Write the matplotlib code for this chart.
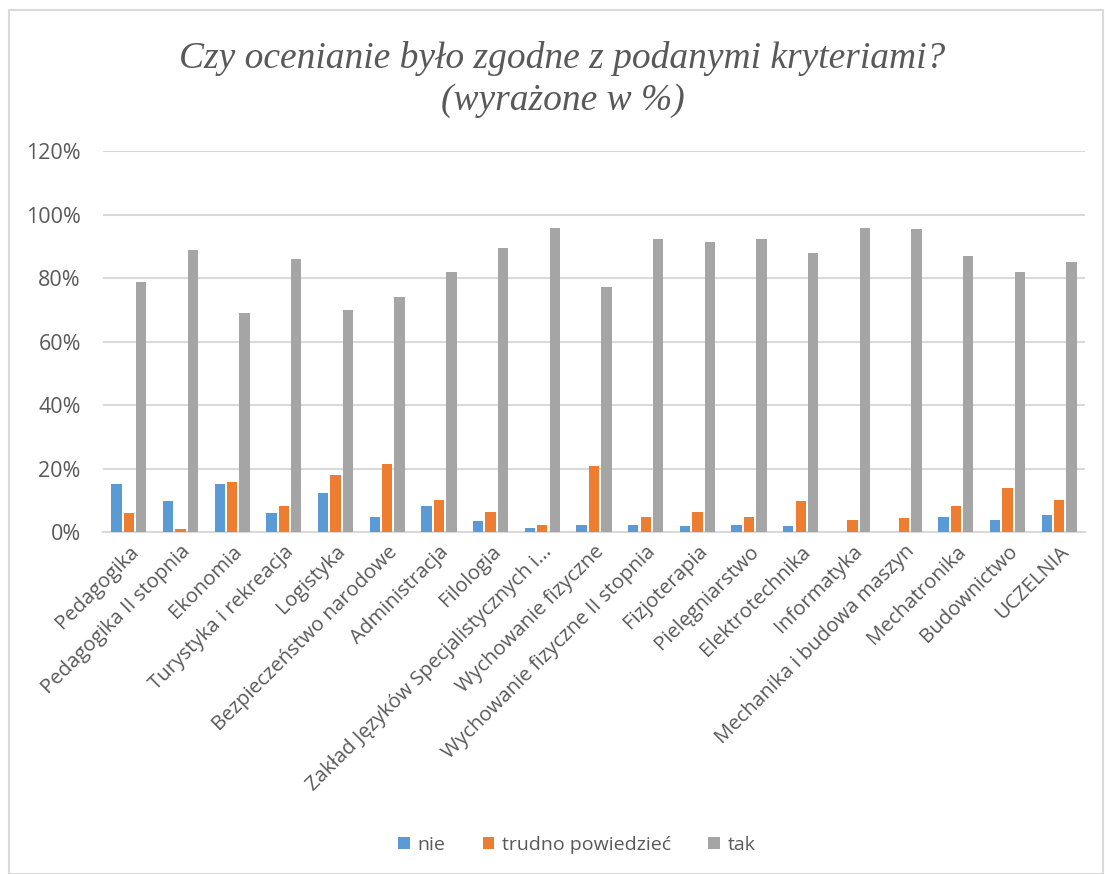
import numpy as np
import matplotlib
matplotlib.use('Agg')
import matplotlib.pyplot as plt
from matplotlib.patches import Rectangle
from matplotlib.ticker import PercentFormatter

#categories (kierunki) and answers in %
kierunki = ['Pedagogika', 'Pedagogika II stopnia', 'Ekonomia', 'Turystyka i rekreacja',
            'Logistyka', 'Bezpieczeństwo narodowe', 'Administracja', 'Filologia',
            'Zakład Języków Specjalistycznych i...', 'Wychowanie fizyczne',
            'Wychowanie fizyczne II stopnia', 'Fizjoterapia', 'Pielęgniarstwo',
            'Elektrotechnika', 'Informatyka', 'Mechanika i budowa maszyn',
            'Mechatronika', 'Budownictwo', 'UCZELNIA']
nie = [15.0, 9.7, 15.0, 6.0, 12.2, 4.7, 8.1, 3.5, 1.4, 2.3,
       2.3, 1.8, 2.3, 1.8, 0.0, 0.0, 4.7, 3.9, 5.2]
trudno = [6.0, 1.0, 15.9, 8.1, 18.0, 21.3, 10.1, 6.4, 2.3, 20.9,
          4.6, 6.4, 4.6, 9.7, 3.9, 4.3, 8.1, 13.8, 10.1]
tak = [78.9, 88.8, 69.1, 86.0, 70.0, 73.9, 82.0, 89.5, 95.8, 77.3,
       92.4, 91.2, 92.4, 88.0, 95.8, 95.4, 86.9, 82.0, 85.2]
serie = ['nie', 'trudno powiedzieć', 'tak']
kolory = ['#5B9BD5', '#ED7D31', '#A5A5A5']
yticks = [0, 20, 40, 60, 80, 100, 120]

txt = '#595959'
fig = plt.figure(figsize=(11.05, 8.74), dpi=100)
ax = fig.add_axes([0.0932, 0.3913, 0.8887, 0.4359])

x = np.arange(len(kierunki))
w = 0.2
step = 0.24
for i, (vals, lab, col) in enumerate(zip([nie, trudno, tak], serie, kolory)):
    ax.bar(x + (i - 1) * step, vals, width=w, color=col, label=lab, zorder=3)

ax.set_xlim(-0.5, len(kierunki) - 0.5)
ax.set_ylim(0, 120)
ax.set_yticks(yticks)
ax.yaxis.set_major_formatter(PercentFormatter(decimals=0))
ax.grid(axis='y', color='#D9D9D9', linewidth=1.5, zorder=0)
for s in ['top', 'right', 'left']:
    ax.spines[s].set_visible(False)
ax.spines['bottom'].set_color('#D9D9D9')
ax.spines['bottom'].set_linewidth(1.5)
ax.tick_params(axis='both', length=0, colors=txt)
ax.tick_params(axis='y', pad=16, labelsize=15.5)
ax.tick_params(axis='x', pad=7)
ax.set_xticks(x)
ax.set_xticklabels(kierunki, rotation=45, ha='right', rotation_mode='anchor',
                   fontsize=14.7, color=txt, family='Open Sans')
for t in ax.get_yticklabels():
    t.set_family('Open Sans')

fig.text(0.509, 0.909, 'Czy ocenianie było zgodne z podanymi kryteriami?\n(wyrażone w %)',
         ha='center', va='center', fontsize=27, style='italic', color=txt,
         family='Liberation Serif', linespacing=1.25)

leg = fig.legend(loc='center', bbox_to_anchor=(0.522, 0.033), ncol=3, frameon=False,
                 handlelength=0.6, handleheight=0.6, handletextpad=0.4, columnspacing=1.9,
                 prop={'family': 'Open Sans', 'size': 14})
for t in leg.get_texts():
    t.set_color(txt)

#frame around the whole chart
fig.patches.append(Rectangle((0.008, 0.0), 0.99, 0.988, transform=fig.transFigure,
                             fill=False, edgecolor='#D9D9D9', linewidth=1.5))

plt.savefig('out.png', dpi=100)
